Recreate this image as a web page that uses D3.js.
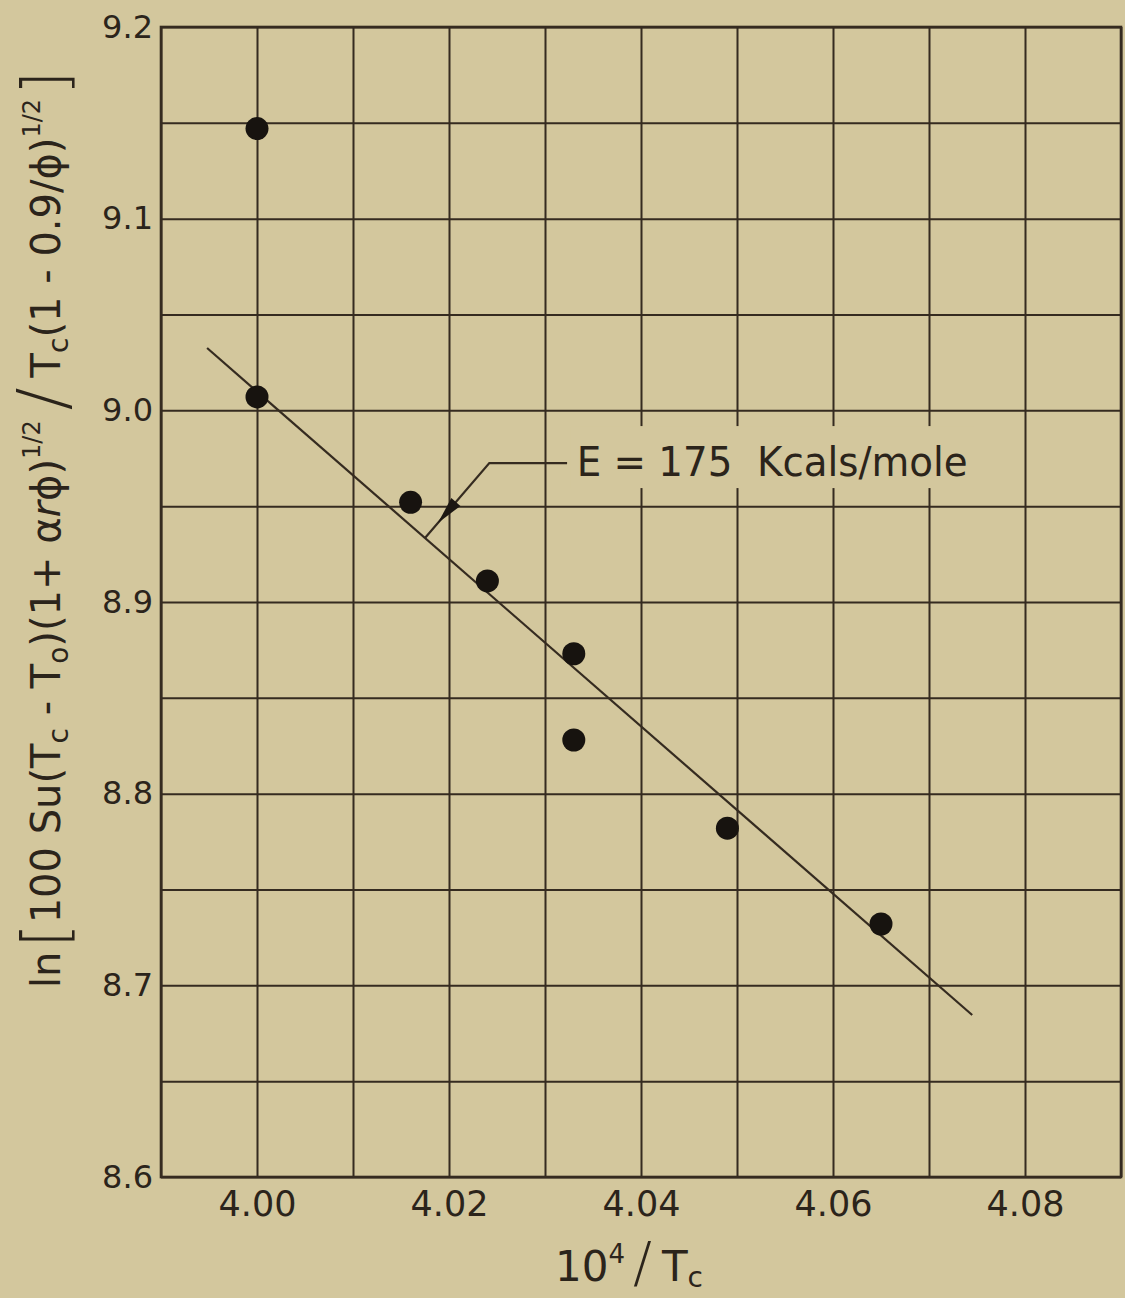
<!DOCTYPE html>
<html>
<head>
<meta charset="utf-8">
<script src="https://cdn.jsdelivr.net/npm/d3@7"></script>
<style>
  html, body { margin: 0; padding: 0; background: #d3c79d; }
  svg { display: block; }
  text { font-family: "DejaVu Sans", sans-serif; fill: #2b241b; }
</style>
</head>
<body>
<svg id="chart"></svg>
<script>
// grid lines, one every 0.01 on x and 0.05 on y
const xGrid = [3.99, 4.00, 4.01, 4.02, 4.03, 4.04, 4.05, 4.06, 4.07, 4.08, 4.09];
const yGrid = [8.60, 8.65, 8.70, 8.75, 8.80, 8.85, 8.90, 8.95, 9.00, 9.05, 9.10, 9.15, 9.20];
const xTickValues = [4.00, 4.02, 4.04, 4.06, 4.08];
const xTickLabels = ['4.00', '4.02', '4.04', '4.06', '4.08'];
const yTickValues = [8.6, 8.7, 8.8, 8.9, 9.0, 9.1, 9.2];
const yTickLabels = ['8.6', '8.7', '8.8', '8.9', '9.0', '9.1', '9.2'];

// measured points (10^4/Tc, ln[...])
const invTc = [4.000, 4.000, 4.016, 4.024, 4.033, 4.033, 4.049, 4.065];
const lnValue = [9.147, 9.007, 8.952, 8.911, 8.873, 8.828, 8.782, 8.732];

// fitted straight line, its two ends
const fitX = [3.9948, 4.0745];
const fitY = [9.0325, 8.6845];

// note with leader: text end -> bend -> tip on the fitted line
const noteText = 'E = 175  Kcals/mole';
const noteAt = [4.0333, 8.9657];
const leaderX = [4.0323, 4.0242, 4.0175];
const leaderY = [8.9725, 8.9725, 8.9334];

const W = 1125, H = 1298;
const margin = { top: 27, right: 4, bottom: 121, left: 161 };
const ink = '#352b20';

const svg = d3.select('#chart').attr('width', W).attr('height', H);
svg.append('rect').attr('width', W).attr('height', H).attr('fill', '#d3c79d');

const x = d3.scaleLinear().domain([3.99, 4.09]).range([margin.left, W - margin.right]);
const y = d3.scaleLinear().domain([8.6, 9.2]).range([H - margin.bottom, margin.top]);
const plotW = x.range()[1] - x.range()[0];
const plotH = y.range()[0] - y.range()[1];

// grid
svg.append('g')
    .attr('transform', 'translate(0,' + y.range()[0] + ')')
    .call(d3.axisBottom(x).tickValues(xGrid).tickSize(-plotH).tickFormat(''))
    .call(g => g.select('.domain').remove())
    .call(g => g.selectAll('line').attr('stroke', ink).attr('stroke-width', 2));

svg.append('g')
    .attr('transform', 'translate(' + x.range()[0] + ',0)')
    .call(d3.axisLeft(y).tickValues(yGrid).tickSize(-plotW).tickFormat(''))
    .call(g => g.select('.domain').remove())
    .call(g => g.selectAll('line').attr('stroke', ink).attr('stroke-width', 2));

svg.append('rect')
    .attr('x', x.range()[0]).attr('y', y.range()[1])
    .attr('width', plotW).attr('height', plotH)
    .attr('fill', 'none').attr('stroke', ink).attr('stroke-width', 2.6);

// tick labels
svg.append('g')
    .attr('transform', 'translate(0,' + y.range()[0] + ')')
    .call(d3.axisBottom(x).tickValues(xTickValues).tickSize(0).tickPadding(14)
        .tickFormat((d, i) => xTickLabels[i]))
    .call(g => g.select('.domain').remove())
    .call(g => g.selectAll('text').attr('font-size', 35).attr('font-family', null).attr('fill', '#2b241b'));

svg.append('g')
    .attr('transform', 'translate(' + x.range()[0] + ',0)')
    .call(d3.axisLeft(y).tickValues(yTickValues).tickSize(0).tickPadding(8)
        .tickFormat((d, i) => yTickLabels[i]))
    .call(g => g.select('.domain').remove())
    .call(g => g.selectAll('text').attr('font-size', 32).attr('font-family', null).attr('fill', '#2b241b'));

// fitted line
svg.append('path')
    .datum(d3.zip(fitX, fitY))
    .attr('d', d3.line().x(d => x(d[0])).y(d => y(d[1])))
    .attr('fill', 'none').attr('stroke', ink).attr('stroke-width', 2.2);

// note: paper cleared behind text
const noteG = svg.append('g');
const note = noteG.append('text')
    .attr('x', x(noteAt[0])).attr('y', y(noteAt[1]))
    .attr('font-size', 41)
    .style('white-space', 'pre')
    .attr('textLength', 391)
    .attr('lengthAdjust', 'spacingAndGlyphs')
    .text(noteText);
const nb = note.node().getBBox();
noteG.insert('rect', 'text')
    .attr('x', nb.x - 6).attr('y', nb.y - 12)
    .attr('width', nb.width + 12).attr('height', nb.height + 14)
    .attr('fill', '#d3c79d');

svg.append('path')
    .datum(d3.zip(leaderX, leaderY))
    .attr('d', d3.line().x(d => x(d[0])).y(d => y(d[1])))
    .attr('fill', 'none').attr('stroke', ink).attr('stroke-width', 2.2);

// arrow head on the slanted part of the leader
const bx = x(leaderX[1]), by = y(leaderY[1]);
const tx = x(leaderX[2]), ty = y(leaderY[2]);
const len = Math.hypot(tx - bx, ty - by);
const ux = (tx - bx) / len, uy = (ty - by) / len;
const tipT = 0.8, baseT = 0.52, half = 6;
const tip = [bx + ux * len * tipT, by + uy * len * tipT];
const base = [bx + ux * len * baseT, by + uy * len * baseT];
svg.append('path')
    .attr('d', 'M' + tip[0] + ',' + tip[1]
        + 'L' + (base[0] - uy * half) + ',' + (base[1] + ux * half)
        + 'L' + (base[0] + uy * half) + ',' + (base[1] - ux * half) + 'Z')
    .attr('fill', '#1c1712');

// points
svg.append('g')
    .selectAll('circle')
    .data(d3.zip(invTc, lnValue))
    .enter()
    .append('circle')
    .attr('cx', d => x(d[0]))
    .attr('cy', d => y(d[1]))
    .attr('r', 11.5)
    .attr('fill', '#17130f');

// x title: 10^4 / Tc
const xt = svg.append('text')
    .attr('x', 629).attr('y', 1281)
    .attr('text-anchor', 'middle')
    .attr('font-size', 42);
xt.append('tspan').text('10');
xt.append('tspan').attr('font-size', 26).attr('dy', -18).text('4');
xt.append('tspan').attr('font-size', 56).attr('font-weight', 200).attr('dx', 8).attr('dy', 18).text('/');
xt.append('tspan').attr('dx', 10).text('T');
xt.append('tspan').attr('font-size', 28).attr('dy', 6).text('c');

// y title
const yt = svg.append('text')
    .attr('transform', 'translate(60,988) rotate(-90)')
    .attr('font-size', 40);
const parts = [
    { t: 'ln' },
    { t: '[', size: 62, dx: 4, dy: 6, light: true },
    { t: '100 Su(T', dy: -6 },
    { t: 'c', size: 28, dy: 8 },
    { t: ' - T', dy: -8 },
    { t: 'o', size: 28, dy: 8 },
    { t: ')(1+ α', dy: -8 },
    { t: 'r', italic: true },
    { t: 'ϕ)' },
    { t: '1/2', size: 24, dy: -20 },
    { t: '/', size: 68, dx: 10, dy: 26, light: true },
    { t: 'T', dx: 10, dy: -6 },
    { t: 'c', size: 28, dy: 8 },
    { t: '(1 - 0.9/ϕ)', dy: -8 },
    { t: '1/2', size: 24, dy: -20 },
    { t: ']', size: 62, dx: 4, dy: 26, light: true }
];
parts.forEach(p => {
    const s = yt.append('tspan').text(p.t);
    if (p.size) s.attr('font-size', p.size);
    if (p.dx) s.attr('dx', p.dx);
    if (p.dy) s.attr('dy', p.dy);
    if (p.italic) s.attr('font-style', 'italic');
    if (p.light) s.attr('font-weight', 200);
});
</script>
</body>
</html>
